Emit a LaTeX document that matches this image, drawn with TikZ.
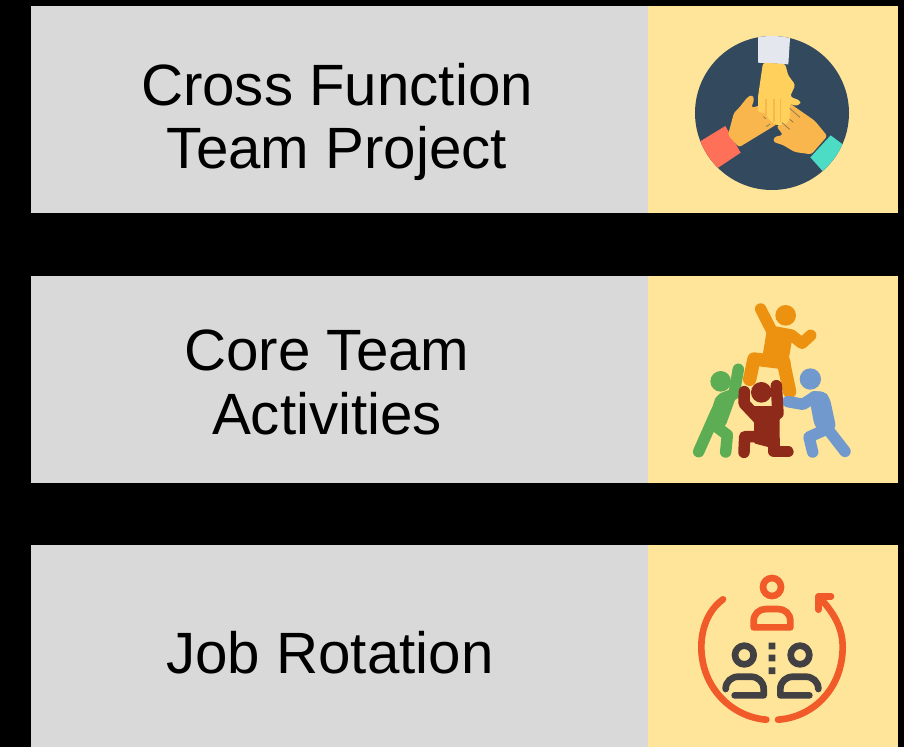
\documentclass[tikz,border=0pt]{standalone}
\usepackage{fontspec}
\setmainfont{Liberation Sans}
\definecolor{greybox}{HTML}{D9D9D9}
\definecolor{yellowbox}{HTML}{FFE599}
\definecolor{navy}{HTML}{334A5E}
\definecolor{cuffw}{HTML}{E4E8EE}
\definecolor{handy}{HTML}{FFD15C}
\definecolor{hando}{HTML}{F8B64C}
\definecolor{cuffr}{HTML}{FF7058}
\definecolor{cuffg}{HTML}{4CDBC4}
\definecolor{porange}{HTML}{EC9210}
\definecolor{pgreen}{HTML}{5DAD55}
\definecolor{pblue}{HTML}{7299CE}
\definecolor{pred}{HTML}{8E2A19}
\definecolor{irons}{HTML}{F15A29}
\definecolor{idark}{HTML}{414042}
\tikzset{
  labelbox/.style={fill=greybox,draw=none,minimum width=617*0.75pt,inner sep=0pt,anchor=north west},
  iconbox/.style={fill=yellowbox,draw=none,minimum width=250*0.75pt,inner sep=0pt,anchor=north west},
  labeltext/.style={align=center,inner sep=0pt,font=\fontsize{43.7}{47.6}\selectfont,text=black},
  limb/.style={line width=8.6pt,line cap=round,line join=round},
  ring/.style={line width=5pt,line cap=round,line join=round,draw=irons},
  ringd/.style={line width=5pt,line cap=round,line join=round,draw=idark},
  zoomed/.style={x=0.25pt,y=-0.25pt}
}
\begin{document}
\begin{tikzpicture}[x=0.75pt,y=-0.75pt]
\useasboundingbox[fill=black] (0,0) rectangle (904,747);
% boxes
\node[labelbox,minimum height=207*0.75pt] (g1) at (31,6) {};
\node[iconbox,minimum height=207*0.75pt] (y1) at (648,6) {};
\node[labelbox,minimum height=207*0.75pt] (g2) at (31,276) {};
\node[iconbox,minimum height=207*0.75pt] (y2) at (648,276) {};
\node[labelbox,minimum height=202*0.75pt] (g3) at (31,545) {};
\node[iconbox,minimum height=202*0.75pt] (y3) at (648,545) {};
% texts
\node[labeltext] (t1) at (337,122) {Cross Function\\Team Project};
\node[labeltext] (t2) at (327,382.5) {Core Team\\Activities};
\node[labeltext] (t3) at (330,653) {Job Rotation};
% icon 1
\begin{scope}[shift={(648,0)},zoomed]
  \fill[navy] (372,339) circle (231);
  \begin{scope}
    \clip (372,339) circle (231);
    \fill[cuffw] (330,100) -- (427,100) -- (421,193) -- (330,188) -- cycle;
    \fill[cuffr] (150,428) -- (232,378) -- (278,458) -- (200,510) -- cycle;
    \fill[cuffg] (548,406) -- (600,445) -- (530,520) -- (487,472) -- cycle;
  \end{scope}
  \fill[hando,rounded corners=2pt] (240,405) -- (258,338) -- (272,325) -- (298,292) -- (312,284) -- (319,296) -- (310,324) -- (335,316) -- (360,340) -- (388,372) -- (350,395) -- (273,442) -- cycle;
  \fill[hando,rounded corners=2pt] (425,310) -- (500,362) -- (538,408) -- (490,463) -- (440,456) -- (405,435) -- (376,426) -- (378,411) -- (405,405) -- (385,378) -- (415,365) -- cycle;
  \fill[handy,rounded corners=2pt] (345,188) -- (412,192) -- (420,225) -- (442,255) -- (426,290) -- (457,302) -- (457,313) -- (440,318) -- (426,310) -- (426,355) -- (415,373) -- (385,376) -- (362,358) -- (352,338) -- (330,337) -- (330,290) -- cycle;
  \draw[navy!60!hando,line width=0.5pt] (425,325) -- (456,352) (425,358) -- (436,367) (402,368) -- (425,388) (346,350) -- (354,356) (355,380) -- (366,372);
  \draw[hando,line width=1pt] (354,298) -- (354,345) (378,298) -- (378,365) (398,298) -- (398,365);
\end{scope}
% icon 2
\begin{scope}[shift={(648,280)},zoomed]
  % orange
  \fill[porange] (413,106) circle (31);
  \draw[limb,porange] (338,87) -- (375,160);
  \draw[limb,porange] (375,155) -- (430,165) -- (462,190) -- (488,166);
  \fill[porange,rounded corners=2pt] (358,140) -- (437,152) -- (420,250) -- (340,250) -- cycle;
  \draw[limb,porange,line width=10pt] (408,248) -- (318,237) -- (305,298);
  \draw[limb,porange,line width=10pt] (405,240) -- (425,335);
  % green
  \fill[pgreen] (218,304) circle (31);
  \draw[limb,pgreen] (271,268) -- (258,342) -- (225,355);
  \fill[pgreen,rounded corners=3pt] (205,345) -- (268,340) -- (232,440) -- (195,460) -- (170,450) -- cycle;
  \draw[limb,pgreen] (152,515) -- (205,395);
  \draw[limb,pgreen] (205,440) -- (238,465) -- (233,516);
  % blue
  \fill[pblue] (487,297) circle (32);
  \draw[limb,pblue] (420,365) -- (465,373) -- (500,350);
  \fill[pblue,rounded corners=4pt] (480,335) -- (528,333) -- (545,352) -- (565,445) -- (530,470) -- (500,440) -- cycle;
  \draw[limb,pblue] (545,455) -- (591,514);
  \draw[limb,pblue] (530,450) -- (483,471) -- (494,516);
  % maroon
  \fill[pred] (340,337) circle (31);
  \draw[limb,pred] (289,335) -- (288,370) -- (335,420);
  \draw[limb,pred] (385,317) -- (390,400);
  \fill[pred,rounded corners=1pt] (305,378) -- (404,378) -- (404,410) -- (395,415) -- (395,510) -- (318,490) -- (318,410) -- cycle;
  \draw[limb,pred] (375,470) -- (290,470) -- (288,517);
  \draw[limb,pred] (378,480) -- (378,515) -- (420,515);
\end{scope}
% icon 3
\begin{scope}[shift={(648,547)},zoomed]
  \draw[ring] (225,157) .. controls (180,190) and (160,245) .. (160,300) .. controls (160,420) and (250,510) .. (355,518);
  \draw[ring] (390,518) .. controls (500,510) and (584,420) .. (584,300) .. controls (584,245) and (560,200) .. (515,152);
  \draw[ring] (511,188) -- (511,148) -- (549,148);
  \draw[ring] (372,120) circle (27);
  \draw[ring] (317,241) -- (427,241) -- (427,222) .. controls (427,200) and (410,186) .. (390,186) -- (354,186) .. controls (334,186) and (317,200) .. (317,222) -- cycle;
  \draw[ringd] (289,324) circle (28);
  \draw[ringd] (456,324) circle (28);
  \fill[idark] (362,287) rectangle (382,307) (362,323) rectangle (382,343) (362,361) rectangle (382,381);
  \draw[ringd] (233,426) .. controls (233,404) and (250,389) .. (272,389) -- (308,389) .. controls (330,389) and (347,404) .. (347,426) -- (347,445) -- (260,445);
  \draw[ringd] (511,426) .. controls (511,404) and (494,389) .. (472,389) -- (436,389) .. controls (414,389) and (397,404) .. (397,426) -- (397,445) -- (484,445);
\end{scope}
\end{tikzpicture}
\end{document}
